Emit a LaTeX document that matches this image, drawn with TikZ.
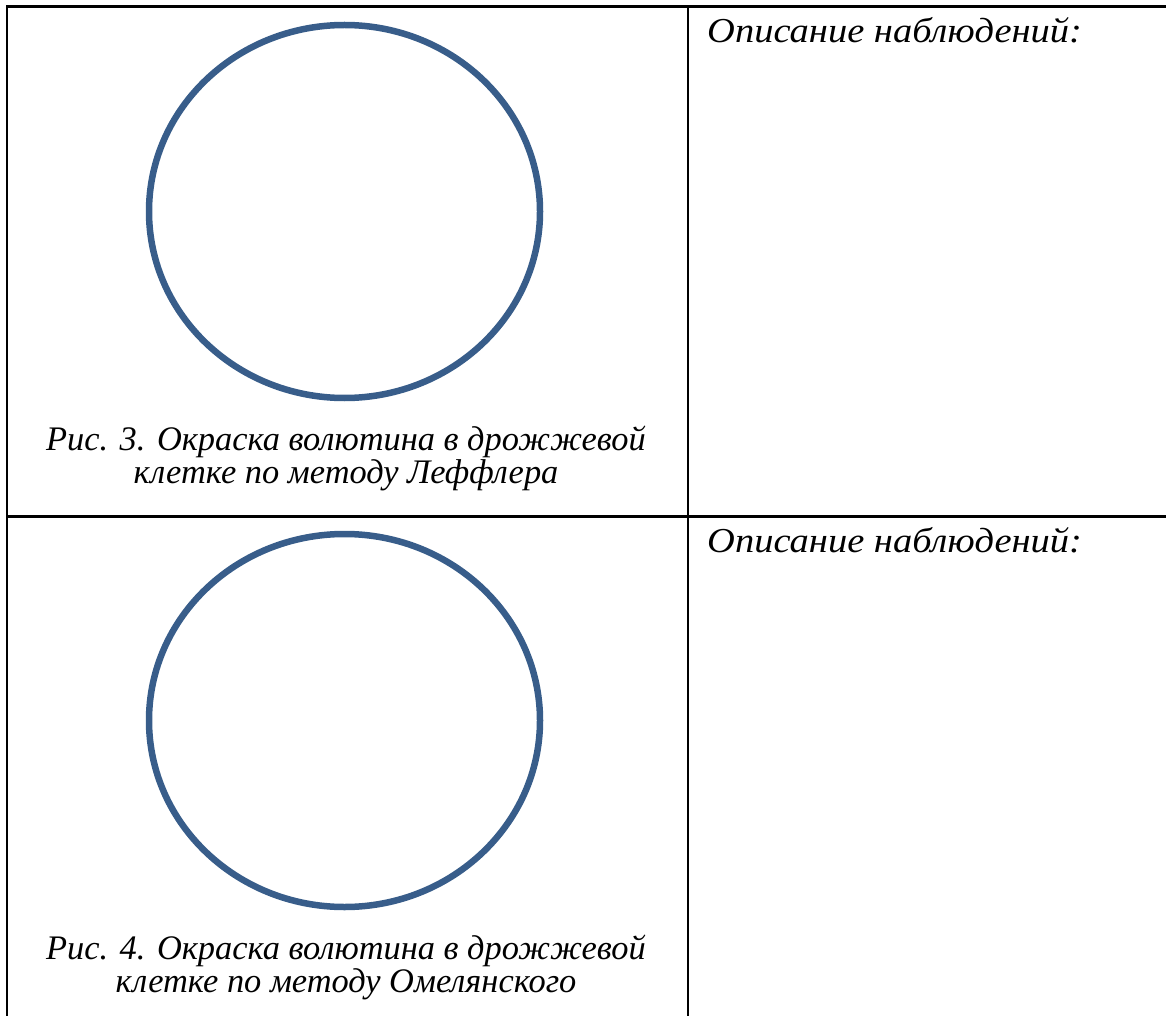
\documentclass[tikz,border=0pt]{standalone}
\usepackage{fontspec}
\setmainfont{Liberation Serif}
\definecolor{ringblue}{HTML}{385D8A}

\begin{document}
\begin{tikzpicture}[x=1pt,y=-1pt,
    grid/.style={line width=2.6pt,black},
    ring/.style={draw=ringblue,line width=6.5pt},
    caption/.style={font=\fontsize{34.4}{33}\selectfont\itshape,align=center,anchor=base,inner sep=0pt},
    note/.style={font=\fontsize{35}{35}\selectfont\itshape,anchor=base west,inner sep=0pt,xscale=1.1}]
    \useasboundingbox (0,0) rectangle (1166,1016);

    % Draw table lines
    \draw[grid] (7,1016) -- (7,6.5) -- (1166,6.5);
    \draw[grid] (688,6.5) -- (688,1016);
    \draw[grid] (7,516.7) -- (1166,516.7);

    % Draw cells
    \foreach \row/\num/\name in {0/3/Леффлера, 509/4/Омелянского} {
        \draw[ring] (344.5,211.5+\row) ellipse (195.5 and 186.5);
        \node[caption] (cap\num) at (346,483+\row) {Рис. \num. Окраска волютина в дрожжевой\\клетке по методу \name};
        \node[note] (obs\num) at (707,43+\row) {Описание наблюдений:};
    }
\end{tikzpicture}
\end{document}
